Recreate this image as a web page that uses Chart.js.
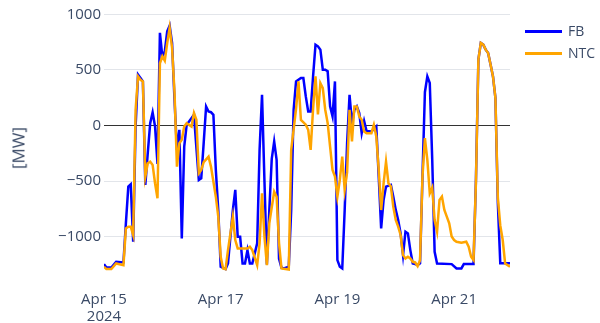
<!DOCTYPE html>
<html>
<head>
<meta charset="utf-8">
<script src="https://cdn.jsdelivr.net/npm/chart.js@4.4.1/dist/chart.umd.min.js"></script>
<style>
  body { margin: 0; background: #fff; font-family: "Open Sans", sans-serif; }
  #wrap { position: relative; width: 600px; height: 323px; }
  #yTitle {
    position: absolute; left: 18px; top: 148px;
    transform: translate(-50%, -50%) rotate(-90deg);
    font-size: 17px; color: #3a4a66; white-space: nowrap;
  }
  .key { position: absolute; left: 525px; height: 20px; font-size: 14px; color: #3a4a66; }
  .key span.swatch { position: absolute; left: 0; top: 9px; width: 37px; height: 2.5px; }
  .key span.name { position: absolute; left: 43px; top: 0; line-height: 20px; }
</style>
</head>
<body>
<div id="wrap">
  <canvas id="flowChart" width="600" height="323"></canvas>
  <div id="yTitle">[MW]</div>
  <div class="key" style="top:21px"><span class="swatch" style="background:#0000ff"></span><span class="name">FB</span></div>
  <div class="key" style="top:43px"><span class="swatch" style="background:#ffa500"></span><span class="name">NTC</span></div>
</div>
<script>
// hours since Apr 15 2024 00:00, values in MW
const fbHours = [0, 1, 3, 5, 8, 9, 10, 11, 12, 13, 14, 15, 16, 17, 18, 19, 20, 21, 22, 23, 24, 25, 26, 27, 28, 29, 30, 31, 32, 33, 34, 35, 37, 39, 40, 41, 42, 43, 44, 45, 46, 47, 48, 50, 51, 53, 54, 55, 56, 57, 58, 59, 60, 61, 63, 64, 65, 66, 67, 68, 69, 70, 71, 72, 73, 74, 76, 77, 78, 79, 81, 82, 83, 84, 85, 86, 87, 88, 89, 90, 91, 92, 93, 94, 95, 96, 97, 98, 99, 100, 101, 102, 103, 104, 105, 106, 107, 108, 110, 112, 113, 114, 115, 116, 118, 119, 120, 121, 122, 123, 124, 125, 126, 127, 128, 129, 130, 131, 132, 133, 134, 135, 136, 137, 143, 145, 147, 148, 152, 153, 154, 155, 156, 157, 158, 159, 160, 161, 162, 163, 167];
const fbMW = [-1248, -1278, -1278, -1227, -1233, -881, -550, -529, -1047, -9, 458, 427, 397, -535, -249, 21, 118, -9, -346, 834, 620, 668, 848, 900, 743, 232, -219, -39, -1016, -190, 6, 36, 96, -490, -475, -159, 171, 126, 120, 96, -400, -761, -1272, -1293, -1242, -761, -580, -1002, -1002, -1242, -1242, -1122, -1242, -1242, -1061, -219, 277, -500, -1250, -761, -300, -144, -310, -1200, -1280, -1287, -1272, -761, 142, 397, 427, 427, 262, 127, 127, 442, 728, 713, 683, 503, 503, 488, 172, 82, 397, -1212, -1272, -1287, -761, -159, 277, 21, 142, 172, 112, -69, 40, -50, -54, -9, -460, -926, -670, -550, -535, -641, -760, -850, -971, -1167, -956, -971, -1122, -1242, -1248, -1257, -1242, -460, 300, 442, 383, -300, -1137, -1242, -1248, -1287, -1287, -1248, -1248, -480, 593, 744, 728, 683, 653, 550, 442, 250, -700, -1240, -1240];

const ntcHours = [0, 1, 3, 5, 8, 9, 10, 11, 12, 13, 14, 15, 16, 17, 18, 19, 20, 21, 22, 23, 24, 25, 26, 27, 28, 29, 30, 31, 32, 33, 34, 36, 37, 38, 39, 40, 41, 43, 44, 46, 47, 48, 49, 50, 51, 53, 54, 55, 59, 60, 61, 63, 64, 65, 66, 67, 68, 70, 71, 72, 73, 76, 77, 79, 80, 81, 83, 84, 85, 86, 87, 88, 89, 90, 91, 92, 93, 94, 95, 96, 97, 98, 99, 100, 101, 102, 103, 104, 105, 106, 107, 108, 110, 111, 112, 113, 114, 115, 116, 117, 118, 119, 120, 121, 122, 123, 124, 125, 126, 127, 128, 129, 130, 131, 132, 133, 134, 135, 136, 137, 138, 139, 140, 141, 142, 143, 144, 145, 147, 149, 150, 151, 152, 153, 154, 155, 156, 157, 158, 159, 160, 161, 162, 163, 164, 165, 167];
const ntcMW = [-1272, -1293, -1293, -1242, -1257, -926, -911, -911, -986, 142, 442, 412, 397, -460, -340, -325, -355, -520, -655, 560, 623, 584, 743, 879, 700, 300, -370, -159, -129, -9, 21, -9, 112, 51, -430, -400, -330, -280, -370, -641, -821, -1182, -1287, -1293, -1122, -821, -1031, -1107, -1107, -1092, -1122, -1257, -1061, -610, -1000, -1257, -881, -595, -641, -1061, -1287, -1296, -219, 150, 397, 50, 7, -39, -219, 150, 442, 100, 382, 337, 142, 22, -190, -400, -460, -641, -490, -280, -580, -420, 142, -144, 172, 172, 82, 51, -54, -69, -69, 6, -99, -400, -761, -520, -325, -520, -550, -731, -851, -911, -986, -1167, -1197, -1182, -1197, -1227, -1233, -1266, -1212, -460, -114, -310, -610, -560, -851, -956, -670, -640, -761, -821, -881, -1000, -1031, -1047, -1056, -1047, -1092, -1182, -1212, -500, 593, 744, 728, 683, 653, 550, 442, 250, -650, -900, -1031, -1242, -1272];

const dayTicks = [0, 48, 96, 144];
const dayLabels = [["Apr 15", "2024"], "Apr 17", "Apr 19", "Apr 21"];
const mwTicks = [-1000, -500, 0, 500, 1000];

const toPoints = (hours, values) => hours.map((h, i) => ({ x: h, y: values[i] }));
const textColor = "#3a4a66";

new Chart(document.getElementById("flowChart"), {
    type: "line",
    data: {
        datasets: [
            // FB underneath, NTC drawn over it
            { label: "FB", data: toPoints(fbHours, fbMW), order: 1, borderColor: "#0000ff", borderWidth: 2.5, pointRadius: 0, tension: 0 },
            { label: "NTC", data: toPoints(ntcHours, ntcMW), order: 0, borderColor: "#ffa500", borderWidth: 2.5, pointRadius: 0, tension: 0 }
        ]
    },
    options: {
        responsive: false,
        animation: false,
        layout: { padding: { left: 0, right: 90, top: 4, bottom: 0 } },
        plugins: { legend: { display: false }, tooltip: { enabled: false } },
        scales: {
            x: {
                type: "linear",
                min: 0,
                max: 167,
                afterBuildTicks: s => { s.ticks = dayTicks.map(v => ({ value: v })); },
                afterFit: s => { s.height = 40; },
                grid: { display: false },
                border: { display: false },
                ticks: {
                    autoSkip: false,
                    maxRotation: 0,
                    padding: 0,
                    color: textColor,
                    font: { family: "Open Sans", size: 15, lineHeight: 1.15 },
                    callback: v => dayLabels[dayTicks.indexOf(v)]
                }
            },
            y: {
                min: -1418,
                max: 1022,
                afterBuildTicks: s => { s.ticks = mwTicks.map(v => ({ value: v })); },
                afterFit: s => { s.width = 104; },
                grid: {
                    drawTicks: false,
                    color: c => c.tick && c.tick.value === 0 ? "#333" : "#e2e5ea",
                    lineWidth: 1
                },
                border: { display: false },
                ticks: {
                    padding: 3,
                    color: textColor,
                    font: { family: "Open Sans", size: 15 },
                    callback: v => String(v).replace("-", "\u2212")
                }
            }
        }
    }
});
</script>
</body>
</html>
